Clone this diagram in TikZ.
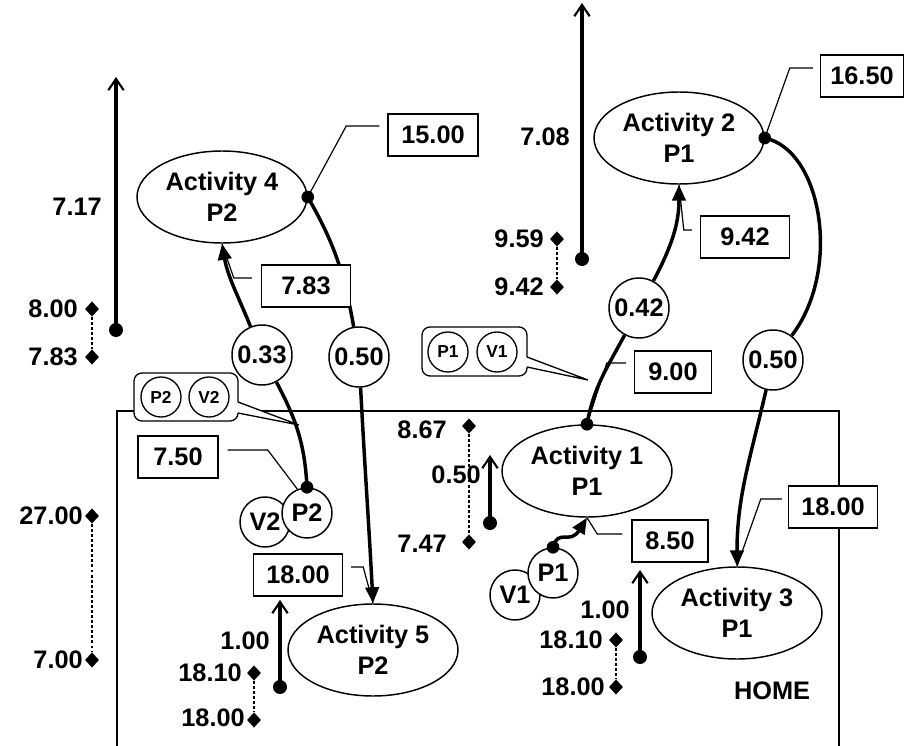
\documentclass[tikz,border=0pt]{standalone}
\usepackage{fontspec}
\setmainfont{Liberation Sans}
\usetikzlibrary{shapes.geometric,arrows.meta}

\begin{document}
\begin{tikzpicture}[x=0.75pt,y=-0.75pt,
  every node/.style={font=\fontsize{19}{23}\selectfont\bfseries},
  act/.style={ellipse,draw,line width=1.1pt,fill=white,minimum width=127.5pt,minimum height=69pt,inner sep=0pt,align=center},
  tcirc/.style={circle,draw,line width=1.1pt,fill=white,minimum size=45pt,inner sep=0pt},
  pv/.style={circle,draw,line width=1.1pt,fill=white,minimum size=37.5pt,inner sep=0pt},
  pvsmall/.style={circle,draw,line width=1pt,minimum size=30pt,inner sep=0pt,font=\fontsize{13}{14}\selectfont\bfseries},
  tbox/.style={draw,line width=1.1pt,fill=white,minimum height=31.5pt,inner sep=0pt},
  jdot/.style={circle,fill,minimum size=9.5pt,inner sep=0pt},
  adot/.style={circle,fill,minimum size=10.5pt,inner sep=0pt},
  dmd/.style={diamond,fill,minimum width=10.5pt,minimum height=11.5pt,inner sep=0pt},
  lbl/.style={anchor=east,inner sep=0pt},
  conn/.style={line width=2.6pt},
  flow/.style={conn,-{Triangle[length=12pt,width=10pt]}},
  lead/.style={line width=0.9pt},
  axis/.style={line width=2.5pt,-{Straight Barb[length=8.5pt,width=11.5pt,line width=1.6pt]}},
  span/.style={line width=2.1pt,dash pattern=on 2.2pt off 1.6pt},
  callout/.style={draw,line width=1pt,fill=white}
]
\useasboundingbox (0,0) rectangle (904,746);

% HOME area
\draw[line width=1.1pt] (117,746) -- (117,411) -- (839,411) -- (839,746);
\node (home) at (772,691) {HOME};

% activities
\node[act] (act4) at (222,197) {Activity 4\\P2};
\node[act] (act2) at (679,138) {Activity 2\\P1};
\node[act] (act1) at (587,471) {Activity 1\\P1};
\node[act] (act3) at (737,613) {Activity 3\\P1};
\node[act] (act5) at (373,650) {Activity 5\\P2};

% travel times
\node[tcirc] (t033) at (262,355) {0.33};
\node[tcirc] (t050a) at (359,357) {0.50};
\node[tcirc] (t042) at (639,308) {0.42};
\node[tcirc] (t050b) at (773,360) {0.50};

% persons and vehicles at home
\node[pv] (v2) at (265,522) {V2};
\node[pv] (p2) at (307,513) {P2};
\node[pv] (v1) at (515,595) {V1};
\node[pv] (p1) at (553,573) {P1};

% junction dots
\node[jdot] (jp2) at (p2.north) {};
\node[jdot] (jp1) at (p1.north) {};
\node[jdot] (j4) at (act4.east) {};
\node[jdot] (j2) at (act2.east) {};
\node[jdot] (j1) at (act1.north) {};

% trips
\draw[conn] (j4.center) to[out=-60,in=100] (t050a);
\draw[flow] (t050a) to[out=-87,in=93] (act5.north);
\draw[conn] (jp2.center) to[out=93,in=-62] (t033);
\draw[flow] (t033) to[out=112,in=-80] (act4.south);
\draw[conn] (j1.center) to[out=80,in=-118] (t042);
\draw[flow] (t042) to[out=62,in=-90] (act2.south);
\draw[conn] (j2.center) .. controls (822,150) and (842,270) .. (t050b);
\draw[flow] (t050b) to[out=-103,in=90] (act3.north);
\draw[flow] (jp1.center) .. controls (558,528) and (570,545) .. (act1.south);

% clock times
\node[tbox,minimum width=67.5pt] (b1500) at (433,135) {15.00};
\node[tbox,minimum width=66.75pt] (b783) at (306,286) {7.83};
\node[tbox,minimum width=62.25pt] (b1650) at (862,76) {16.50};
\node[tbox,minimum width=66.75pt] (b942) at (745,237) {9.42};
\node[tbox,minimum width=57.75pt] (b900) at (673,372) {9.00};
\node[tbox,minimum width=60pt] (b750) at (178,457) {7.50};
\node[tbox,minimum width=66.75pt] (b1800a) at (298,575) {18.00};
\node[tbox,minimum width=57pt] (b850) at (670,541) {8.50};
\node[tbox,minimum width=66.75pt] (b1800b) at (833,507) {18.00};

% leaders from clock times
\draw[lead] ([shift={(-6pt,6.75pt)}]b1500.west) -- ++(-33,0) -- (j4.center);
\draw[lead] ([shift={(-5.25pt,6pt)}]b1650.west) -- ++(-23,0) -- (j2.center);
\draw[lead] ([shift={(-6.75pt,6pt)}]b783.west) -- ++(-18,0) -- (act4.south);
\draw[lead] ([shift={(-6pt,5.25pt)}]b942.west) -- ++(-8,0) -- (act2.south);
\draw[lead] ([shift={(-6pt,6.75pt)}]b900.west) -- ++(-19,0) -- (j1.center);
\draw[lead] ([shift={(6.75pt,5.25pt)}]b750.east) -- ++(40,0) -- (p2.112);
\draw[lead] ([shift={(6pt,6pt)}]b1800a.east) -- ++(12,0) -- (act5.north);
\draw[lead] ([shift={(-6.75pt,5.25pt)}]b850.west) -- ++(-25,0) -- (act1.south);
\draw[lead] ([shift={(-4.5pt,6pt)}]b1800b.west) -- ++(-21,0) -- (act3.north);

% callouts of who travels: rounded box, then a pointer that opens its edge
\draw[callout,rounded corners=6pt] (134,373) rectangle (238,421);
\fill[white] (236.5,402) -- (299,425) -- (236.5,413) -- cycle;
\draw[line width=1pt] (238,402) -- (299,425) -- (238,413);
\node[pvsmall] (cp2) at (161,397) {P2};
\node[pvsmall] (cv2) at (209,397) {V2};
\draw[callout,rounded corners=6pt] (422,327) rectangle (527,376);
\fill[white] (525.5,357) -- (588,380) -- (525.5,367) -- cycle;
\draw[line width=1pt] (527,357) -- (588,380) -- (527,367);
\node[pvsmall] (cp1) at (448,352) {P1};
\node[pvsmall] (cv1) at (497,352) {V1};

% durations
\node[adot] (a1) at (116,330) {}; \coordinate (a1t) at (116,77);
\draw[axis] (a1.center) -- (a1t);
\node[lbl] (l717) at (102,207) {7.17};
\node[adot] (a2) at (582,259) {}; \coordinate (a2t) at (582,3);
\draw[axis] (a2.center) -- (a2t);
\node[lbl] (l708) at (570,137) {7.08};
\node[adot] (a3) at (490,523) {}; \coordinate (a3t) at (490,455);
\draw[axis] (a3.center) -- (a3t);
\node[adot] (a4) at (280,687) {}; \coordinate (a4t) at (280,600);
\draw[axis] (a4.center) -- (a4t);
\node[lbl] (l100a) at (270,641) {1.00};
\node[adot] (a5) at (640,657) {}; \coordinate (a5t) at (640,570);
\draw[axis] (a5.center) -- (a5t);
\node[lbl] (l100b) at (630,610) {1.00};

% time windows
\node[dmd] (d1) at (92,309) {}; \node[dmd] (d2) at (92,357) {};
\draw[span] (d1) -- (d2);
\node[lbl] (l800) at (78,309) {8.00};
\node[lbl] (l783) at (78,357) {7.83};
\node[dmd] (d3) at (557,239) {}; \node[dmd] (d4) at (557,287) {};
\draw[span] (d3) -- (d4);
\node[lbl] (l959) at (544,239) {9.59};
\node[lbl] (l942) at (544,287) {9.42};
\node[dmd] (d5) at (469,426) {}; \node[dmd] (d6) at (469,542) {};
\draw[span] (d5) -- (d6);
\node[lbl] (l867) at (447,430) {8.67};
\node[lbl] (l747) at (447,544) {7.47};
\node[lbl] (l050) at (481,475) {0.50};
\node[dmd] (d7) at (92,516) {}; \node[dmd] (d8) at (92,660) {};
\draw[span] (d7) -- (d8);
\node[lbl] (l2700) at (83,516) {27.00};
\node[lbl] (l700) at (83,660) {7.00};
\node[dmd] (d9) at (254,673) {}; \node[dmd] (d10) at (254,720) {};
\draw[span] (d9) -- (d10);
\node[lbl] (l1810a) at (242,673) {18.10};
\node[lbl] (l1800a) at (245,718) {18.00};
\node[dmd] (d11) at (616,640) {}; \node[dmd] (d12) at (616,687) {};
\draw[span] (d11) -- (d12);
\node[lbl] (l1810b) at (603,640) {18.10};
\node[lbl] (l1800b) at (605,687) {18.00};
\end{tikzpicture}
\end{document}
